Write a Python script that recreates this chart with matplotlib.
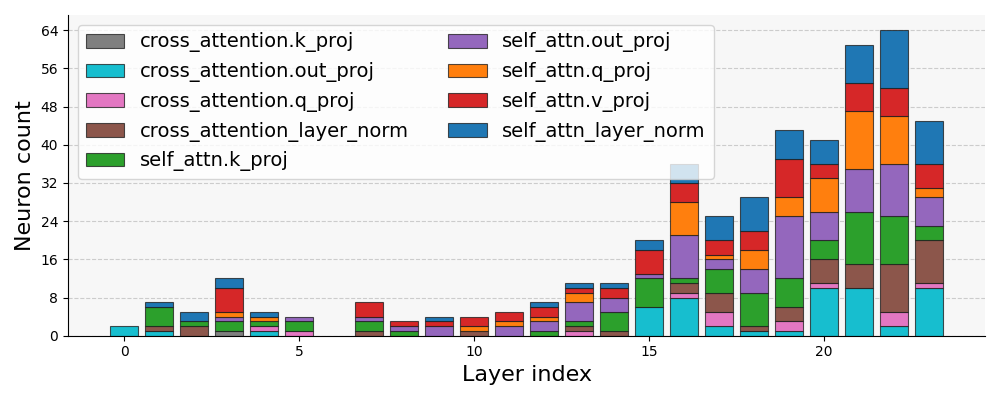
import numpy as np
import matplotlib
matplotlib.use("Agg")
import matplotlib.pyplot as plt

layers = list(range(24))

# neuron counts per module, one value per layer (0..23)
cross_k_proj   = [0, 0, 0, 1, 0, 0, 0, 0, 0, 0, 0, 0, 0, 0, 0, 0, 0, 0, 0, 0, 0, 0, 0, 0]
cross_out_proj = [2, 1, 0, 0, 1, 0, 0, 0, 0, 0, 0, 0, 0, 0, 0, 6, 8, 2, 1, 1, 10, 10, 2, 10]
cross_q_proj   = [0, 0, 0, 0, 1, 1, 0, 0, 0, 0, 0, 0, 0, 1, 0, 0, 1, 3, 0, 2, 1, 0, 3, 1]
cross_ln       = [0, 1, 2, 0, 0, 0, 0, 1, 0, 0, 1, 0, 0, 1, 1, 0, 2, 4, 1, 3, 5, 5, 10, 9]
self_k_proj    = [0, 4, 1, 2, 1, 2, 0, 2, 1, 0, 0, 0, 1, 1, 4, 6, 1, 5, 7, 6, 4, 11, 10, 3]
self_out_proj  = [0, 0, 0, 1, 0, 1, 0, 1, 1, 2, 0, 2, 2, 4, 3, 1, 9, 2, 5, 13, 6, 9, 11, 6]
self_q_proj    = [0, 0, 0, 1, 1, 0, 0, 0, 0, 0, 1, 1, 1, 2, 0, 0, 7, 1, 4, 4, 7, 12, 10, 2]
self_v_proj    = [0, 0, 0, 5, 0, 0, 0, 3, 1, 1, 2, 2, 2, 1, 2, 5, 4, 3, 4, 8, 3, 6, 6, 5]
self_ln        = [0, 1, 2, 2, 1, 0, 0, 0, 0, 1, 0, 0, 1, 1, 1, 2, 4, 5, 7, 6, 5, 8, 12, 9]

series = [
    ("cross_attention.k_proj", cross_k_proj, "#7f7f7f"),
    ("cross_attention.out_proj", cross_out_proj, "#17becf"),
    ("cross_attention.q_proj", cross_q_proj, "#e377c2"),
    ("cross_attention_layer_norm", cross_ln, "#8c564b"),
    ("self_attn.k_proj", self_k_proj, "#2ca02c"),
    ("self_attn.out_proj", self_out_proj, "#9467bd"),
    ("self_attn.q_proj", self_q_proj, "#ff7f0e"),
    ("self_attn.v_proj", self_v_proj, "#d62728"),
    ("self_attn_layer_norm", self_ln, "#1f77b4"),
]

fig, ax = plt.subplots(figsize=(10, 4), dpi=100)
ax.set_facecolor("#f7f7f7")
ax.set_axisbelow(True)

x = np.array(layers)
bottom = np.zeros(len(layers))
for label, vals, color in series:
    vals = np.array(vals, dtype=float)
    nz = vals > 0
    ax.bar(x[nz], vals[nz], bottom=bottom[nz], width=0.8, color=color, label=label,
           edgecolor=(0.1, 0.1, 0.1, 0.75), linewidth=0.8)
    bottom += vals

ax.set_xlim(-1.6, 24.6)
ax.set_ylim(0, 67.2)
ax.set_yticks(np.arange(0, 65, 8))
ax.grid(axis="y", linestyle="--", color="#cccccc", linewidth=0.8)
ax.spines["top"].set_visible(False)
ax.spines["right"].set_visible(False)
ax.set_xlabel("Layer index", fontsize=16)
ax.set_ylabel("Neuron count", fontsize=16)
ax.legend(loc="upper left", ncol=2, fontsize=14)

plt.tight_layout()
plt.savefig("out.png", dpi=100)
